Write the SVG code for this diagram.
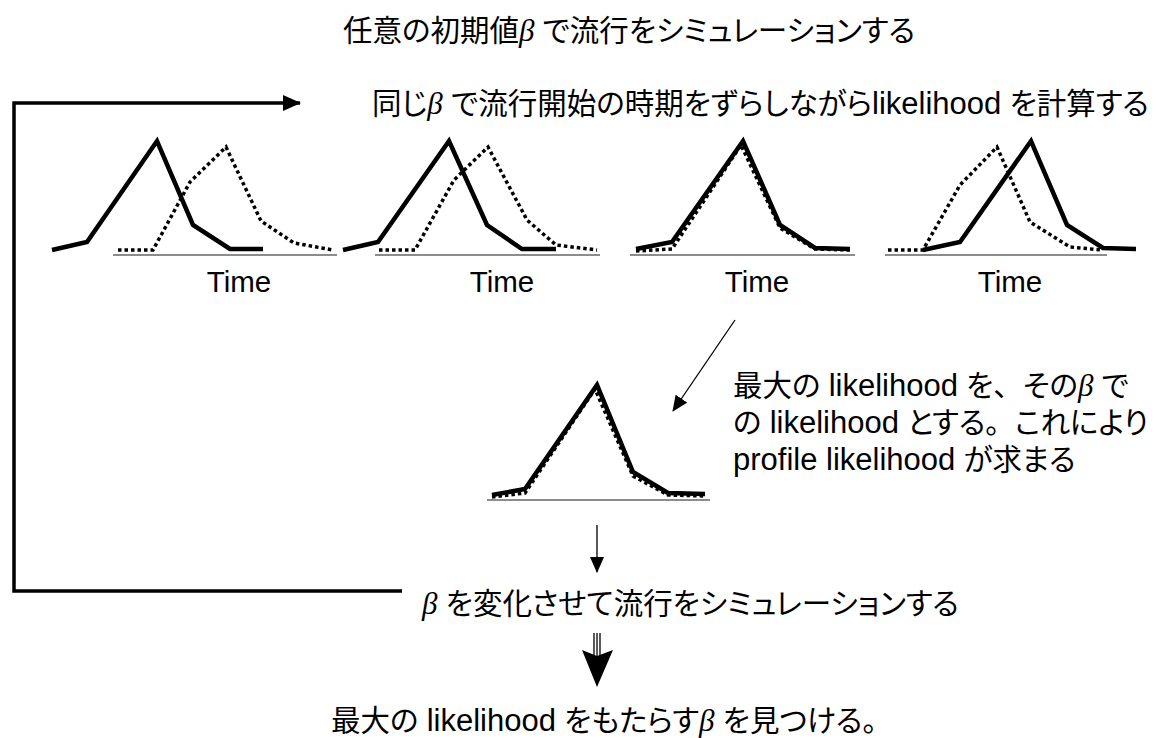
<svg xmlns="http://www.w3.org/2000/svg" width="1159" height="738" viewBox="0 0 1159 738">
<style>
.t{font-family:"Liberation Sans","Noto Sans CJK JP",sans-serif;font-size:29.5px;fill:#000;font-feature-settings:"palt"}
.l{font-size:31px}
.np{font-feature-settings:normal}
.b{font-family:"Liberation Serif","Noto Sans CJK JP",serif;font-style:italic;font-size:31px}
.tm{font-family:"Liberation Sans",sans-serif;font-size:29.5px;fill:#000}
.solid{fill:none;stroke:#000;stroke-width:4.5;stroke-linejoin:miter}
.dot{fill:none;stroke:#000;stroke-width:3.5;stroke-dasharray:3.5 3}
.axis{stroke:#666;stroke-width:1.5}
.thin{stroke:#000;stroke-width:1.3;fill:none}
.thick{stroke:#000;stroke-width:3.5;fill:none}
</style>
<defs>
<marker id="ahs" markerWidth="16" markerHeight="14" refX="15" refY="7" orient="auto" markerUnits="userSpaceOnUse" viewBox="0 0 16 14">
<path d="M0,0 L16,7 L0,14 z" fill="#000"/>
</marker>
<marker id="ahb" markerWidth="18" markerHeight="16" refX="17" refY="8" orient="auto" markerUnits="userSpaceOnUse" viewBox="0 0 18 16">
<path d="M0,0 L18,8 L0,16 z" fill="#000"/>
</marker>
</defs>
<rect width="1159" height="738" fill="#fff"/>

<g id="title">
<text class="t" x="343" y="41">任意の初期値<tspan class="b">β</tspan> で流行をシミュレーションする</text>
</g>
<g id="step">
<text class="t" x="372" y="114">同じ<tspan class="b">β</tspan> で流行開始の時期をずらしながら<tspan class="l">likelihood</tspan> を計算する</text>
</g>

<g id="panel1">
<line class="axis" x1="113" y1="255" x2="337" y2="255"/>
<polyline class="solid" points="52,250 87,242 157,141 193,225 230,249 263,249"/>
<polyline class="dot" points="118,250 153,250 190,182 226,147 261,221 294,243 333,250"/>
<text class="tm" x="239" y="292" text-anchor="middle">Time</text>
</g>
<g id="panel2">
<line class="axis" x1="375" y1="255" x2="600" y2="255"/>
<polyline class="solid" points="343,250 378,242 449,141 487,225 522,249 556,249"/>
<polyline class="dot" points="379,250 415,250 454,180 488,147 527,220 556,245 597,250"/>
<text class="tm" x="502" y="292" text-anchor="middle">Time</text>
</g>
<g id="panel3">
<line class="axis" x1="630" y1="255" x2="855" y2="255"/>
<polyline class="dot" points="636,251 672,249 741,145 780,228 815,249 850,250"/>
<polyline class="solid" points="636,249 672,242 743,141 780,225 815,248 850,249"/>
<text class="tm" x="757" y="292" text-anchor="middle">Time</text>
</g>
<g id="panel4">
<line class="axis" x1="885" y1="255" x2="1107" y2="255"/>
<polyline class="dot" points="888,250 923,250 960,185 997,147 1030,222 1070,247 1102,250"/>
<polyline class="solid" points="923,250 960,242 1031,141 1067,225 1103,248 1136,249"/>
<text class="tm" x="1010" y="292" text-anchor="middle">Time</text>
</g>

<g id="best">
<line class="axis" x1="487" y1="500" x2="710" y2="500"/>
<polyline class="dot" points="492,497 525,493 595,389 633,476 668,495 705,496"/>
<polyline class="solid" points="492,495 525,489 597,385 633,472 668,493 705,494"/>
</g>

<g id="note">
<text class="t" x="733" y="396">最大の <tspan class="l">likelihood</tspan>  を<tspan class="np">、</tspan>その<tspan class="b">β</tspan> で</text>
<text class="t" x="733" y="433">の <tspan class="l">likelihood</tspan> とする<tspan class="np">。</tspan>これにより</text>
<text class="t" x="733" y="470"><tspan class="l">profile likelihood</tspan> が求まる</text>
</g>

<g id="change">
<text class="t" x="422" y="614"><tspan class="b">β</tspan> を変化させて流行をシミュレーションする</text>
</g>
<g id="result">
<text class="t" x="331" y="731">最大の <tspan class="l">likelihood</tspan>  をもたらす<tspan class="b">β</tspan> を見つける<tspan class="np">。</tspan></text>
</g>

<g id="connectors">
<polyline class="thick" points="402,591 14,591 14,103 300,103" marker-end="url(#ahb)"/>
<line class="thin" x1="735" y1="320" x2="673" y2="411" marker-end="url(#ahs)"/>
<line class="thin" x1="597" y1="525" x2="597" y2="572" marker-end="url(#ahs)"/>
<line class="thin" x1="594" y1="633" x2="594" y2="662"/>
<line class="thin" x1="597" y1="633" x2="597" y2="662"/>
<line class="thin" x1="600" y1="633" x2="600" y2="662"/>
<path d="M582,650 L597,656 L613,650 L597,687 z" fill="#000"/>
</g>
</svg>
